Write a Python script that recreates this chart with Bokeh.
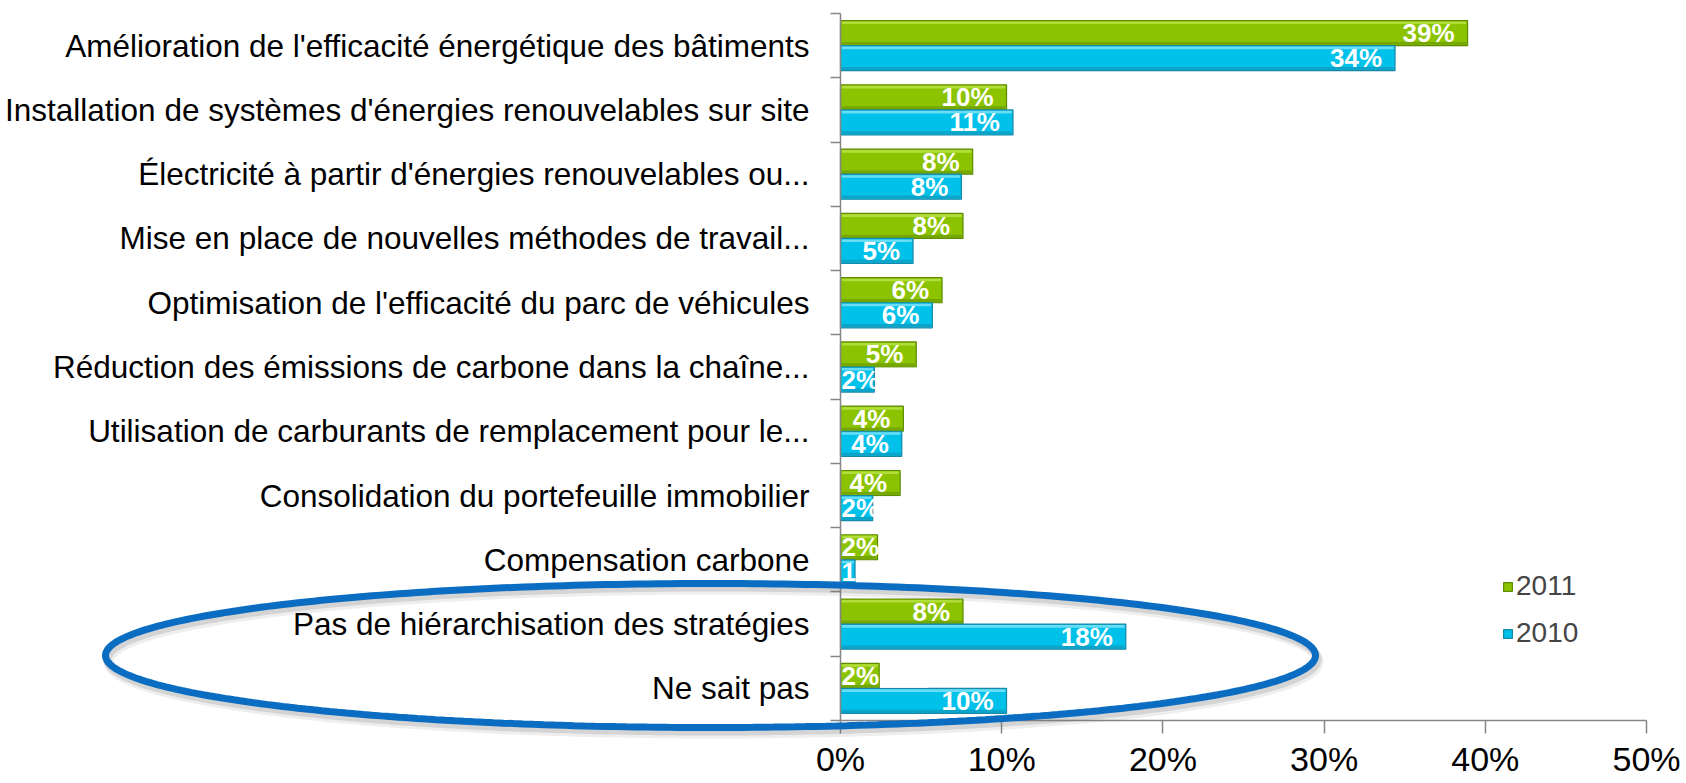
import math
from bokeh.plotting import figure
from bokeh.models import (Range1d, FixedTicker, ColumnDataSource,
                          PolyAnnotation, Legend, LegendItem)
from bokeh.transform import dodge
from bokeh.core.properties import value
from bokeh.embed import file_html
from bokeh.resources import INLINE

# ---------------- data ----------------
categories = [
    "Amélioration de l'efficacité énergétique des bâtiments",
    "Installation de systèmes d'énergies renouvelables sur site",
    "Électricité à partir d'énergies renouvelables ou...",
    "Mise en place de nouvelles méthodes de travail...",
    "Optimisation de l'efficacité du parc de véhicules",
    "Réduction des émissions de carbone dans la chaîne...",
    "Utilisation de carburants de remplacement pour le...",
    "Consolidation du portefeuille immobilier",
    "Compensation carbone",
    "Pas de hiérarchisation des stratégies",
    "Ne sait pas",
]
series = ["2011", "2010"]
v2011 = [38.9, 10.3, 8.2, 7.6, 6.3, 4.7, 3.9, 3.7, 2.3, 7.6, 2.4]
v2010 = [34.4, 10.7, 7.5, 4.5, 5.7, 2.1, 3.8, 2.0, 0.9, 17.7, 10.3]
labels2011 = ["39%", "10%", "8%", "8%", "6%", "5%", "4%", "4%", "2%", "8%", "2%"]
labels2010 = ["34%", "11%", "8%", "5%", "6%", "2%", "4%", "2%", "1%", "18%", "10%"]
x_ticks = [0, 10, 20, 30, 40, 50]
x_tick_labels = ["0%", "10%", "20%", "30%", "40%", "50%"]

# ---------------- style / layout ----------------
FONT = "Liberation Sans"
GREEN, GREEN_D, GREEN_L = "#8CC300", "#5E8C00", "#B2DE3C"
BLUE, BLUE_D, BLUE_L = "#00C1E9", "#1788A8", "#6ADDF4"
AXIS_C = "#868686"

W, H = 1686, 783
n = len(categories)
X_MAX = 50
# pixel geometry of the plotting area inside the canvas
PX_LEFT, PX_RIGHT, PX_TOP, PX_BOTTOM = 840, 1646, 13, 720
ppx = (PX_RIGHT - PX_LEFT) / X_MAX
ppy = (PX_BOTTOM - PX_TOP) / n
x_range = Range1d(-PX_LEFT / ppx, X_MAX + (W - PX_RIGHT) / ppx)
y_range = Range1d(-(H - PX_BOTTOM) / ppy, n + PX_TOP / ppy)

p = figure(width=W, height=H, output_backend="svg", toolbar_location=None,
           x_range=x_range, y_range=y_range,
           min_border_left=0, min_border_right=0,
           min_border_top=0, min_border_bottom=0)
p.outline_line_color = None
p.xgrid.visible = False
p.ygrid.visible = False
p.background_fill_color = "white"
p.border_fill_color = "white"

bar_h = 0.39
centers = [n - i - 0.5 for i in range(n)]
src = ColumnDataSource(dict(y=centers, v2011=v2011, v2010=v2010,
                            l2011=labels2011, l2010=labels2010))

rends = {}
for key, off, col, dcol, lcol in (("v2011", bar_h / 2, GREEN, GREEN_D, GREEN_L),
                                  ("v2010", -bar_h / 2, BLUE, BLUE_D, BLUE_L)):
    r = p.hbar(y=dodge("y", off, range=p.y_range), left=0, right=key, height=bar_h,
               source=src, fill_color=col, line_color=dcol, line_width=1.2)
    rends[key] = r
    p.hbar(y=dodge("y", off + bar_h / 2 - 0.035, range=p.y_range), left=0.08,
           right=dodge(key, -0.08), height=0.04, source=src,
           fill_color=lcol, line_color=None)
    p.hbar(y=dodge("y", off - bar_h / 2 + 0.035, range=p.y_range), left=0.08,
           right=dodge(key, -0.08), height=0.045, source=src,
           fill_color=dcol, fill_alpha=0.5, line_color=None)

# ---------------- value labels ----------------
LBL_SIZE = 26
PAD = 13
def text_w(s):
    return LBL_SIZE * sum(0.889 if c == "%" else 0.556 for c in s)

for key, lkey, off in (("v2011", "l2011", bar_h / 2), ("v2010", "l2010", -bar_h / 2)):
    fit = dict(x=[], y=[], t=[])
    nofit = dict(x=[], y=[], t=[], mr=[], mt=[], mb=[])
    for yv, vv, tt in zip(centers, src.data[key], src.data[lkey]):
        if vv * ppx - PAD - text_w(tt) >= 0:
            fit["x"].append(vv); fit["y"].append(yv + off); fit["t"].append(tt)
        else:
            nofit["x"].append(vv); nofit["y"].append(yv + off); nofit["t"].append(tt)
            nofit["mr"].append(vv + 3)
            nofit["mt"].append(yv + off + bar_h / 2 - 0.01)
            nofit["mb"].append(yv + off - bar_h / 2 + 0.01)
    common = dict(text_baseline="middle", text_font=value(FONT), text_font_style="bold",
                  text_font_size=f"{LBL_SIZE}px", text_color="white")
    p.text(x="x", y="y", text="t", source=ColumnDataSource(fit),
           text_align="right", x_offset=-PAD, **common)
    if nofit["x"]:
        ns = ColumnDataSource(nofit)
        p.text(x=0, y="y", text="t", source=ns, text_align="left", x_offset=1, **common)
        p.quad(left=dodge("x", 0.07), right="mr", top="mt", bottom="mb", source=ns,
               fill_color="white", line_color=None)

# ---------------- axes (drawn at the origin, inside the canvas) ----------------
yax = p.yaxis[0]
yax.fixed_location = 0
yax.bounds = (0, n)
yax.ticker = FixedTicker(ticks=centers, minor_ticks=[float(i) for i in range(n + 1)])
yax.major_label_overrides = {c: lab for c, lab in zip(centers, categories)}
yax.major_tick_out = 0
yax.major_tick_in = 0
yax.minor_tick_out = 10
yax.minor_tick_in = 0
yax.minor_tick_line_color = AXIS_C
yax.minor_tick_line_width = 1.5
yax.axis_line_color = AXIS_C
yax.axis_line_width = 1.5
yax.major_label_text_font = FONT
yax.major_label_text_font_size = "31.5px"
yax.major_label_text_color = "black"
yax.major_label_standoff = 21

xax = p.xaxis[0]
xax.fixed_location = 0
xax.bounds = (0, X_MAX)
xax.ticker = FixedTicker(ticks=x_ticks, minor_ticks=[])
xax.major_label_overrides = {t: lab for t, lab in zip(x_ticks, x_tick_labels)}
xax.major_label_text_font = FONT
xax.major_label_text_font_size = "34px"
xax.major_label_text_color = "black"
xax.major_label_standoff = 6
xax.major_tick_out = 13
xax.major_tick_in = 0
xax.major_tick_line_color = AXIS_C
xax.major_tick_line_width = 1.5
xax.axis_line_color = AXIS_C
xax.axis_line_width = 1.5

# ---------------- legend ----------------
legend = Legend(items=[LegendItem(label=series[0], renderers=[rends["v2011"]]),
                       LegendItem(label=series[1], renderers=[rends["v2010"]])],
                location=(1502, 134), glyph_width=11, glyph_height=11,
                label_text_font=FONT, label_text_font_size="28px",
                label_height=32, label_standoff=3, spacing=15, padding=0, margin=0,
                border_line_color=None, background_fill_alpha=0)
p.add_layout(legend)

# ---------------- highlight ellipse (canvas pixels) ----------------
cx, cy, a, b = 710, 655, 605, 72
ts = [2 * math.pi * k / 360 for k in range(361)]
ex = [cx + a * math.cos(t) for t in ts]
ey = [cy + b * math.sin(t) for t in ts]
for dx, dy, lw, al in ((3, 6, 10, 0.12), (2, 4, 8, 0.2)):
    p.add_layout(PolyAnnotation(xs=[x + dx for x in ex], ys=[y + dy for y in ey],
                                xs_units="canvas", ys_units="canvas",
                                fill_color=None, fill_alpha=0,
                                line_color="#707070", line_alpha=al, line_width=lw))
p.add_layout(PolyAnnotation(xs=ex, ys=ey, xs_units="canvas", ys_units="canvas",
                            fill_color=None, fill_alpha=0,
                            line_color="#0A6DC2", line_alpha=1.0, line_width=7))

open("out.html", "w").write(file_html(p, INLINE))
